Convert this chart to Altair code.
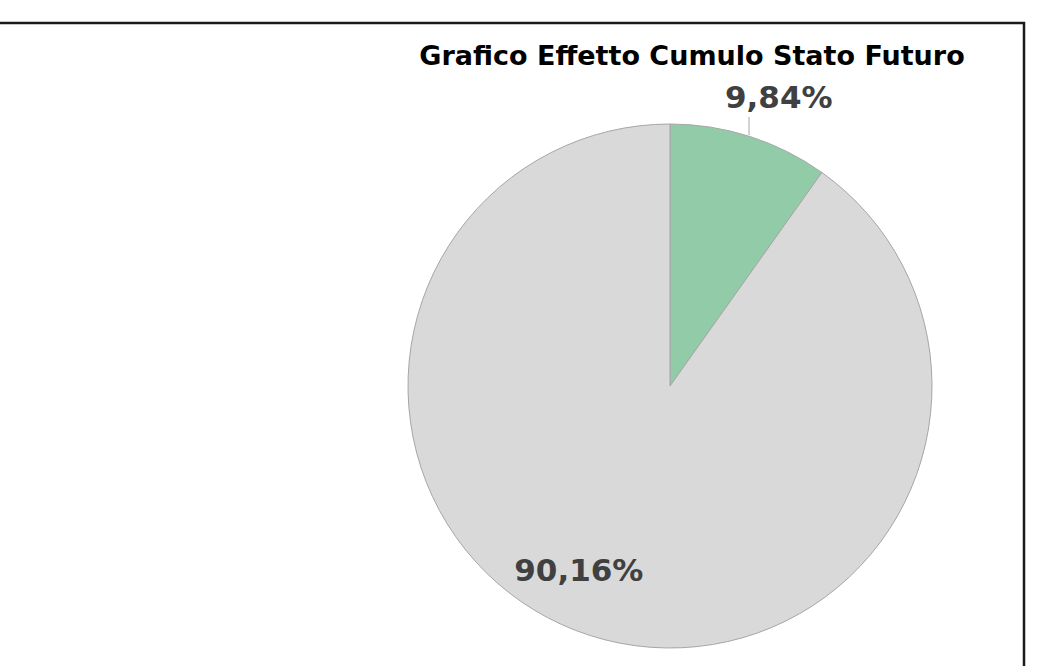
import altair as alt
import pandas as pd

categories = ["Effetto cumulo", "Resto"]
values = [9.84, 90.16]
labels = ["9,84%", "90,16%"]
colors = ["#92CBA8", "#D9D9D9"]
title_text = "Grafico Effetto Cumulo Stato Futuro"

df = pd.DataFrame({"cat": categories, "val": values, "label": labels, "order": [0, 1]})

W, H = 1059, 666
CX, CY, R = 670, 386, 262

base = alt.Chart(df).encode(
    theta=alt.Theta("val:Q", stack=True),
    order=alt.Order("order:Q"),
)

pie = base.mark_arc(outerRadius=R, stroke="#A6A6A6", strokeWidth=1).encode(
    x=alt.value(CX),
    y=alt.value(CY),
    color=alt.Color("cat:N", scale=alt.Scale(domain=categories, range=colors), legend=None),
)

text_style = dict(font="DejaVu Sans", fontWeight="bold", fontSize=31,
                  color="#404040", align="center", baseline="middle")

lab1 = base.mark_text(radius=307, thetaOffset=0.053, **text_style).encode(
    x=alt.value(CX), y=alt.value(CY),
    text=alt.condition(alt.datum.order == 0, "label:N", alt.value("")),
)

lab2 = base.mark_text(radius=207, thetaOffset=0.147, **text_style).encode(
    x=alt.value(CX), y=alt.value(CY),
    text=alt.condition(alt.datum.order == 1, "label:N", alt.value("")),
)

leader = alt.Chart(df).mark_rule(color="#A6A6A6", strokeWidth=1).encode(
    x=alt.value(749), y=alt.value(117), y2=alt.value(135)
).transform_filter(alt.datum.order == 0)

title = alt.Chart(pd.DataFrame({"t": [title_text]})).mark_text(
    font="DejaVu Sans", fontWeight="bold", fontSize=27, color="#000000",
    align="center", baseline="middle",
).encode(x=alt.value(692), y=alt.value(57), text="t:N")

frame = alt.Chart(pd.DataFrame({"a": [0]})).mark_rect(
    fill=None, stroke="#1a1a1a", strokeWidth=2.5
).encode(x=alt.value(-20), x2=alt.value(1024), y=alt.value(23), y2=alt.value(720))

chart = alt.layer(frame, pie, leader, lab1, lab2, title).properties(
    width=W, height=H, autosize=alt.AutoSizeParams(type="none"), padding=0,
    background="white",
).configure_view(stroke=None)

chart.save("out.html", embed_options={"renderer": "svg", "actions": False})
